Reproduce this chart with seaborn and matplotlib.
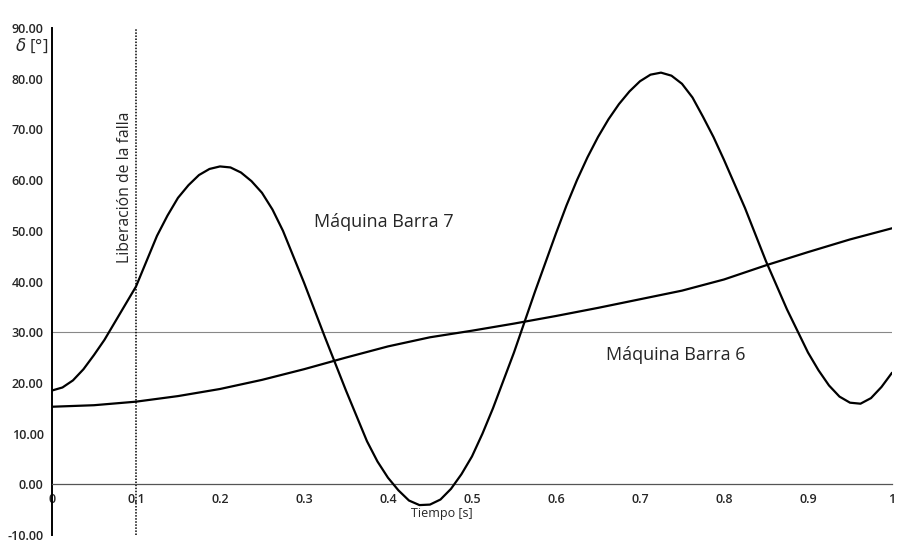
import numpy as np
import pandas as pd
import matplotlib.pyplot as plt
import seaborn as sns

# Máquina Barra 7 (rotor angle, degrees)
t_b7 = [0.0, 0.0125, 0.025, 0.0375, 0.05, 0.0625, 0.075, 0.0875, 0.1, 0.1125,
        0.125, 0.1375, 0.15, 0.1625, 0.175, 0.1875, 0.2, 0.2125, 0.225, 0.2375,
        0.25, 0.2625, 0.275, 0.3, 0.325, 0.35, 0.375, 0.3875, 0.4, 0.4125,
        0.425, 0.4375, 0.45, 0.4625, 0.475, 0.4875, 0.5, 0.5125, 0.525, 0.55,
        0.575, 0.6, 0.6125, 0.625, 0.6375, 0.65, 0.6625, 0.675, 0.6875, 0.7,
        0.7125, 0.725, 0.7375, 0.75, 0.7625, 0.775, 0.7875, 0.8, 0.825, 0.85,
        0.875, 0.9, 0.9125, 0.925, 0.9375, 0.95, 0.9625, 0.975, 0.9875, 1.0]
d_b7 = [18.5, 19.1, 20.5, 22.7, 25.5, 28.5, 32.0, 35.5, 39.0, 44.0,
        49.0, 53.0, 56.5, 59.0, 61.0, 62.2, 62.7, 62.5, 61.5, 59.8,
        57.5, 54.2, 50.0, 39.8, 29.0, 18.5, 8.5, 4.5, 1.3, -1.2,
        -3.2, -4.1, -4.0, -3.0, -0.9, 2.0, 5.5, 10.0, 15.0, 26.0,
        38.0, 49.5, 55.0, 60.0, 64.5, 68.5, 72.0, 75.0, 77.5, 79.5,
        80.8, 81.2, 80.6, 79.0, 76.3, 72.5, 68.5, 64.0, 54.5, 44.0,
        34.5, 26.0, 22.5, 19.5, 17.3, 16.1, 15.9, 17.0, 19.2, 22.0]

# Máquina Barra 6
t_b6 = [0.0, 0.05, 0.1, 0.15, 0.2, 0.25, 0.3, 0.35, 0.4, 0.45, 0.5, 0.55,
        0.6, 0.65, 0.7, 0.75, 0.8, 0.85, 0.9, 0.95, 1.0]
d_b6 = [15.3, 15.6, 16.3, 17.4, 18.8, 20.6, 22.7, 25.0, 27.2, 29.0, 30.3,
        31.7, 33.2, 34.8, 36.5, 38.2, 40.4, 43.2, 45.8, 48.3, 50.5]

t_clear = 0.1
x_ticks = [0, 0.1, 0.2, 0.3, 0.4, 0.5, 0.6, 0.7, 0.8, 0.9, 1]
x_tick_labels = ["0", "0.1", "0.2", "0.3", "0.4", "0.5", "0.6", "0.7", "0.8", "0.9", "1"]
y_ticks = [-10, 0, 10, 20, 30, 40, 50, 60, 70, 80, 90]

sns.set_style("white")
plt.rcParams["font.family"] = ["Open Sans", "DejaVu Sans"]

df7 = pd.DataFrame({"t": t_b7, "delta": d_b7})
df6 = pd.DataFrame({"t": t_b6, "delta": d_b6})

fig = plt.figure(figsize=(9.23, 5.42), dpi=100)
ax = fig.add_axes([0.0563, 0.0129, 0.9101, 0.9354])

ax.axhline(30, color="#888888", lw=0.8, zorder=1)
sns.lineplot(data=df7, x="t", y="delta", color="black", lw=1.6, ax=ax, zorder=3)
sns.lineplot(data=df6, x="t", y="delta", color="black", lw=1.6, ax=ax, zorder=3)
ax.axvline(t_clear, color="black", lw=1.1, ls=(0, (1, 1)), zorder=2)

ax.set_xlim(0, 1)
ax.set_ylim(-10, 90)
ax.spines["top"].set_visible(False)
ax.spines["right"].set_visible(False)
ax.spines["bottom"].set_position(("data", 0))
ax.spines["bottom"].set_color("#555555")
ax.spines["bottom"].set_linewidth(0.9)
ax.spines["left"].set_color("black")
ax.spines["left"].set_linewidth(1.4)

ax.set_xticks(x_ticks)
ax.set_xticklabels(x_tick_labels, fontsize=9, fontweight="semibold")
ax.set_yticks(y_ticks)
ax.set_yticklabels([f"{v:.2f}" for v in y_ticks], fontsize=9, fontweight="semibold")
ax.tick_params(axis="both", length=0, pad=6)

ax.set_xlabel("Tiempo [s]", fontsize=9)
ax.xaxis.set_label_coords(0.464, 0.056)
ax.set_ylabel("")

ax.text(-0.024, 86.5, r"$\delta$ [°]", fontsize=12, ha="center", va="center",
        transform=ax.get_yaxis_transform())
ax.text(0.087, 58.6, "Liberación de la falla", rotation=90, fontsize=11.3,
        ha="center", va="center")
ax.text(0.312, 51.8, "Máquina Barra 7", fontsize=13, ha="left", va="center")
ax.text(0.66, 25.6, "Máquina Barra 6", fontsize=13, ha="left", va="center")

fig.savefig("out.png", dpi=100)
